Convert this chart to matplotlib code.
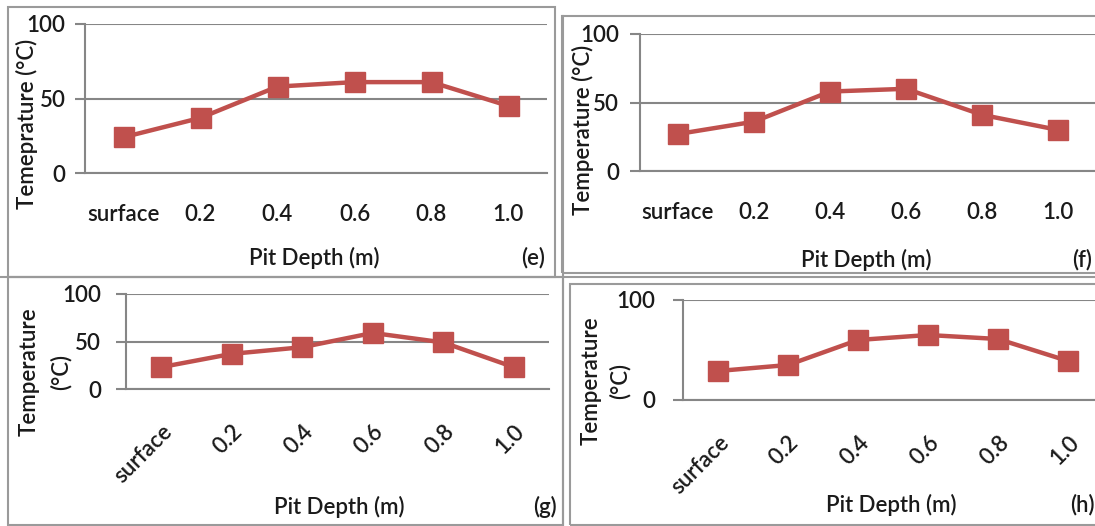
import matplotlib
matplotlib.use("Agg")
import matplotlib.pyplot as plt
from matplotlib.patches import Rectangle
from matplotlib.lines import Line2D

W, H = 1095, 526
plt.rcParams['font.family'] = ['Lato', 'DejaVu Sans']
plt.rcParams['font.weight'] = 'semibold'

categories = ["surface", "0.2", "0.4", "0.6", "0.8", "1.0"]
temp_e = [24, 37, 58, 61, 61, 45]
temp_f = [27, 36, 58, 60, 41, 30]
temp_g = [23, 37, 44, 59, 49, 23]
temp_h = [29, 35, 60, 65, 61, 39]

RED = '#C0504D'
GRID = '#868686'
TXT = '#1A1A1A'
BORDER = '#9A9A9A'
FS = 16

fig = plt.figure(figsize=(W / 100, H / 100), dpi=100)


def fx(x):
    return x / W


def fy(y):
    return 1 - y / H


def box(l, t, r, b):
    fig.add_artist(Rectangle((fx(l), fy(b)), fx(r - l), (b - t) / H,
                             transform=fig.transFigure, fill=False,
                             edgecolor=BORDER, linewidth=1.5))


def line(x0, y0, x1, y1):
    fig.add_artist(Line2D([fx(x0), fx(x1)], [fy(y0), fy(y1)],
                          transform=fig.transFigure, color=BORDER, linewidth=1.5))


def panel(vals, left, top, bottom, spacing, yticks, rot, tick_pad, ypad):
    right = left + spacing * len(vals)
    ax = fig.add_axes([fx(left), fy(bottom), fx(right - left), (bottom - top) / H])
    x = list(range(len(vals)))
    ax.plot(x, vals, color=RED, linewidth=3.2, marker='s', markersize=14,
            markeredgecolor=RED, markerfacecolor=RED, solid_joinstyle='miter', zorder=3)
    ax.set_xlim(-0.5, len(vals) - 0.5)
    ax.set_ylim(0, 100)
    ax.set_yticks(yticks)
    ax.set_yticklabels([str(v) for v in yticks])
    ax.set_xticks(x)
    ax.set_xticklabels(categories)
    for s in ['top', 'right']:
        ax.spines[s].set_visible(False)
    for s in ['left', 'bottom']:
        ax.spines[s].set_color(GRID)
        ax.spines[s].set_linewidth(1.5)
    ax.grid(axis='y', color=GRID, linewidth=1.5)
    ax.set_axisbelow(True)
    ax.tick_params(axis='y', direction='out', length=7, width=1.5, color=GRID,
                   labelsize=FS, labelcolor=TXT, pad=ypad)
    ax.tick_params(axis='x', length=0, labelsize=FS, labelcolor=TXT, pad=tick_pad)
    for t in ax.get_xticklabels():
        if rot:
            t.set_rotation(45)
            t.set_ha('right')
            t.set_va('top')
            t.set_rotation_mode('anchor')
        else:
            t.set_va('center')
    ax.patch.set_alpha(0)
    return ax


def txt(x, y, s, rot=0):
    fig.text(fx(x), fy(y), s, rotation=rot, ha='center', va='center',
             fontsize=FS, color=TXT)


# panel borders
box(8, 7, 555, 277)
box(562, 16, 1102, 273)
line(0, 277, W, 277)
line(563, 16, 563, 526)
box(8, 277, 563, 525)
box(570, 284, 1102, 525)

# (e)
panel(temp_e, 85, 24, 173, 77, [0, 50, 100], False, 30, 7)
txt(27, 124, "Temeprature (°C)", 90)
txt(314, 258, "Pit Depth (m)")
txt(533, 258, "(e)")

# (f)
panel(temp_f, 640, 34, 171, 76, [0, 50, 100], False, 30, 8)
txt(583, 130, "Temperature (°C)", 90)
txt(866, 260, "Pit Depth (m)")
txt(1082, 260, "(f)")

# (g)
panel(temp_g, 126, 294, 389, 70.5, [0, 50, 100], True, 23, 11)
txt(29, 372, "Temperature", 90)
txt(61, 372, "(°C)", 90)
txt(339, 507, "Pit Depth (m)")
txt(545, 507, "(g)")

# (h)
panel(temp_h, 683, 300, 400, 70, [0, 100], True, 23, 13)
txt(591, 381, "Temperature", 90)
txt(620, 381, "(°C)", 90)
txt(891, 505, "Pit Depth (m)")
txt(1082, 505, "(h)")

fig.savefig("out.png", dpi=100, facecolor='white')
